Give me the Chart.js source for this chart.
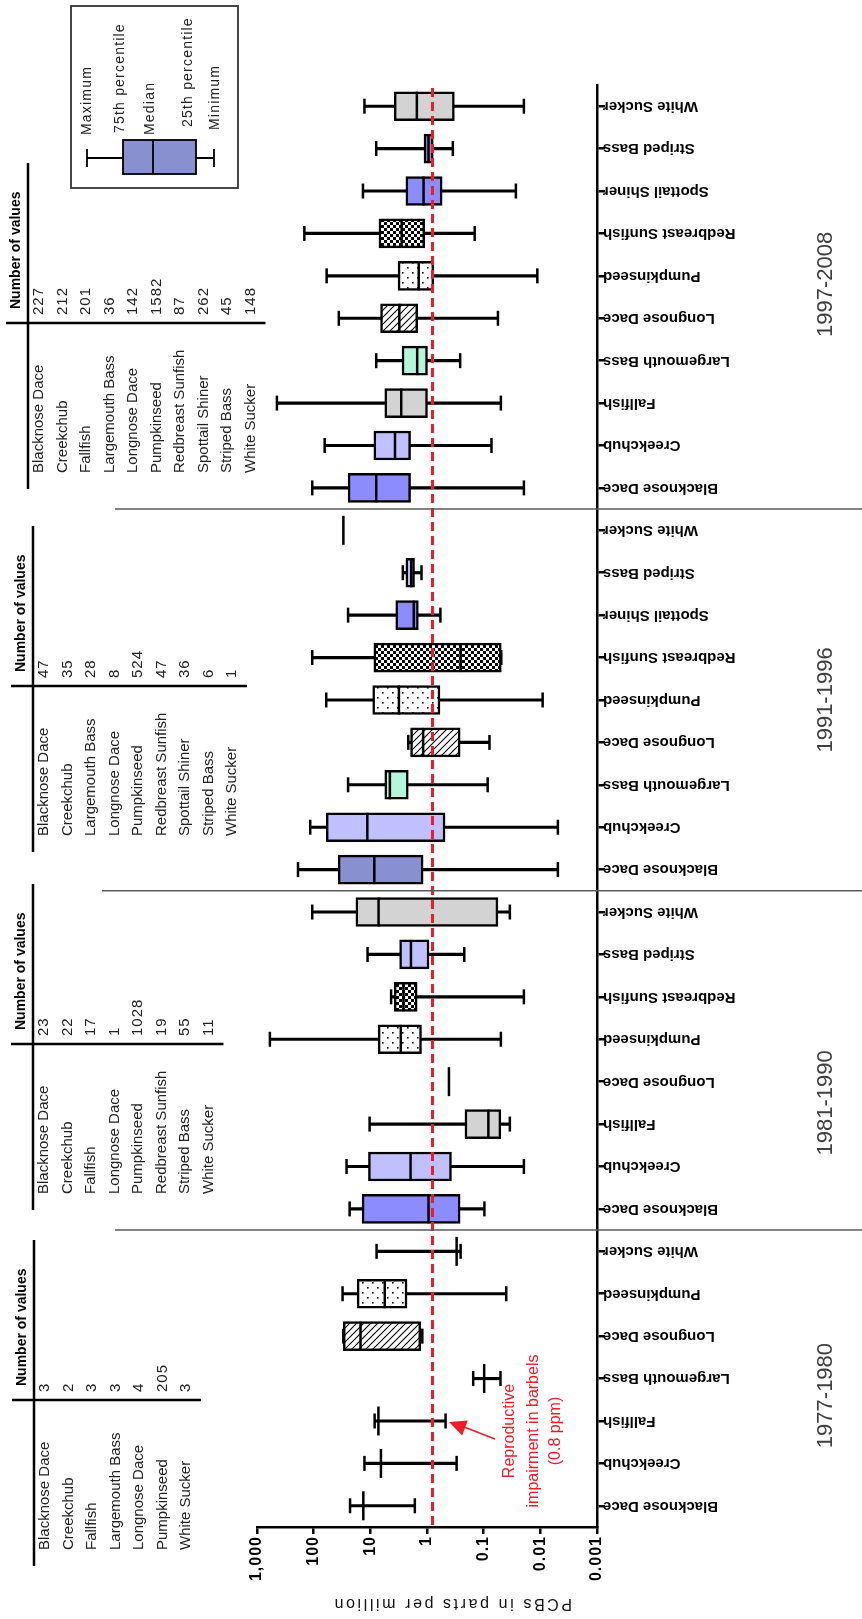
<!DOCTYPE html>
<html>
<head>
<meta charset="utf-8">
<script src="https://cdn.jsdelivr.net/npm/chart.js"></script>
<style>
  html, body { margin: 0; padding: 0; background: #fff; }
  #wrap { width: 862px; height: 1619px; }
</style>
</head>
<body>
<div id="wrap"><canvas id="pcbChart" width="862" height="1619"></canvas></div>
<script>
// ------------------------------------------------------------
// DATA  (bottom of the figure first, i.e. 1977-1980 Blacknose Dace first)
// ------------------------------------------------------------
const periods = ['1977-1980', '1981-1990', '1991-1996', '1997-2008'];

const periodOf = [0, 0, 0, 0, 0, 0, 0,
                  1, 1, 1, 1, 1, 1, 1, 1,
                  2, 2, 2, 2, 2, 2, 2, 2, 2,
                  3, 3, 3, 3, 3, 3, 3, 3, 3, 3];

const species = [
  'Blacknose Dace', 'Creekchub', 'Fallfish', 'Largemouth Bass', 'Longnose Dace', 'Pumpkinseed', 'White Sucker',
  'Blacknose Dace', 'Creekchub', 'Fallfish', 'Longnose Dace', 'Pumpkinseed', 'Redbreast Sunfish', 'Striped Bass', 'White Sucker',
  'Blacknose Dace', 'Creekchub', 'Largemouth Bass', 'Longnose Dace', 'Pumpkinseed', 'Redbreast Sunfish', 'Spottail Shiner', 'Striped Bass', 'White Sucker',
  'Blacknose Dace', 'Creekchub', 'Fallfish', 'Largemouth Bass', 'Longnose Dace', 'Pumpkinseed', 'Redbreast Sunfish', 'Spottail Shiner', 'Striped Bass', 'White Sucker'
];

const minimum = [1.64, 0.30, 0.47, 0.0505, 1.21, 0.040, 0.255,
                 0.097, 0.0195, 0.0345, null, 0.0497, 0.0195, 0.22, 0.0345,
                 0.0049, 0.0049, 0.085, 0.079, 0.0091, 0.0489, 0.58, 1.25, null,
                 0.0195, 0.0728, 0.0497, 0.26, 0.056, 0.0113, 0.144, 0.027, 0.35, 0.0195];

const q1 = [null, null, null, null, 1.29, 2.25, null,
            0.26, 0.37, 0.0497, null, 1.25, 1.49, 0.92, 0.056,
            1.17, 0.48, 2.14, 0.26, 0.59, 0.0489, 1.42, 1.66, null,
            1.95, 1.95, 0.98, 0.98, 1.46, 0.76, 1.10, 0.54, 0.775, 0.329];

const median = [13.3, 6.5, 7.2, 0.098, 14.9, 5.56, 0.30,
                0.94, 1.95, 0.0826, 0.41, 2.9, 2.6, 1.92, 7.16,
                8.5, 11.3, 4.52, 1.17, 3.13, 0.255, 1.71, 1.9, 29.9,
                7.87, 3.67, 2.85, 1.49, 3.08, 1.40, 2.8, 1.15, 0.94, 1.51];

const q3 = [null, null, null, null, 30, 17.1, null,
            14, 10.8, 0.214, null, 7.28, 3.79, 3.04, 18,
            37, 60, 5.56, 1.95, 9.08, 8.67, 3.56, 2.36, null,
            24.7, 8.67, 5.56, 2.76, 6.6, 3.24, 7.05, 2.36, 1.13, 3.79];

const maximum = [22.8, 12.7, 8.4, 0.153, 30, 30.9, 7.76,
                 23.2, 26.3, 10.3, null, 592, 4.3, 11.2, 106,
                 189, 115, 24.7, 2.14, 60, 106, 24.7, 2.67, null,
                 106, 64, 445, 7.87, 36, 59, 146, 13.5, 7.87, 12.7];

// "Number of values" tables, same species order as above
const counts1977 = [3, 2, 3, 3, 4, 205, 3];
const counts1981 = [23, 22, 17, 1, 1028, 19, 55, 11];
const counts1991 = [47, 35, 28, 8, 524, 47, 36, 6, 1];
const counts1997 = [227, 212, 201, 36, 142, 1582, 87, 262, 45, 148];
const countsByPeriod = [counts1977, counts1981, counts1991, counts1997];

const tickValues = [1000, 100, 10, 1, 0.1, 0.01, 0.001];
const tickLabels = ['1,000', '100', '10', '1', '0.1', '0.01', '0.001'];

const thresholdPpm = 0.8;

// ------------------------------------------------------------
// STYLES
// ------------------------------------------------------------
const FONT = '"Liberation Sans", Arial, sans-serif';
const UP = -Math.PI / 2;
const FLIP = Math.PI;

function makePattern(kind) {
  const c = document.createElement('canvas');
  const s = kind === 'check' ? 6 : (kind === 'dots' ? 10 : 7);
  c.width = s; c.height = s;
  const g = c.getContext('2d');
  g.fillStyle = '#fff';
  g.fillRect(0, 0, s, s);
  g.fillStyle = '#000';
  g.strokeStyle = '#000';
  if (kind === 'hatch') {
    g.lineWidth = 1.1;
    g.beginPath();
    g.moveTo(0, s); g.lineTo(s, 0);
    g.moveTo(-2, 2); g.lineTo(2, -2);
    g.moveTo(s - 2, s + 2); g.lineTo(s + 2, s - 2);
    g.stroke();
  } else if (kind === 'dots') {
    g.fillRect(2, 2, 1.6, 1.6);
    g.fillRect(7, 7, 1.6, 1.6);
  } else {
    g.fillRect(0, 0, 3, 3);
    g.fillRect(3, 3, 3, 3);
  }
  return g.createPattern(c, 'repeat');
}

const patterns = { hatch: makePattern('hatch'), dots: makePattern('dots'), check: makePattern('check') };

const speciesFill = {
  'Blacknose Dace': '#8c8cff',
  'Creekchub': '#c0c0ff',
  'Fallfish': '#d3d3d3',
  'Largemouth Bass': '#b4f5dc',
  'Longnose Dace': patterns.hatch,
  'Pumpkinseed': patterns.dots,
  'Redbreast Sunfish': patterns.check,
  'Spottail Shiner': '#8c8cff',
  'Striped Bass': '#c0c0ff',
  'White Sucker': '#d3d3d3'
};

function fillFor(i) {
  if (species[i] === 'Blacknose Dace' && periodOf[i] === 2) return '#8890d0';
  if (species[i] === 'Striped Bass' && periodOf[i] === 3) return '#9090d8';
  return speciesFill[species[i]];
}

// chart order is top to bottom, so reverse everything
const rev = a => a.slice().reverse();
const labels = rev(species);
const cMin = rev(minimum), cQ1 = rev(q1), cMed = rev(median), cQ3 = rev(q3), cMax = rev(maximum);
const cFill = rev(species.map((s, i) => fillFor(i)));
const cPeriod = rev(periodOf);

const whiskerData = cMin.map((m, k) => (m == null || cMax[k] == null) ? null : [m, cMax[k]]);
const boxData = cQ1.map((v, k) => (v == null || cQ3[k] == null) ? null : [v, cQ3[k]]);

// ------------------------------------------------------------
// DRAWING HELPERS
// ------------------------------------------------------------
function txt(ctx, s, x, y, o) {
  ctx.save();
  ctx.translate(x, y);
  ctx.rotate(o.rot || 0);
  ctx.font = o.font;
  ctx.fillStyle = o.color || '#000';
  ctx.textAlign = o.align || 'left';
  ctx.textBaseline = 'middle';
  ctx.letterSpacing = (o.spacing || 0) + 'px';
  ctx.fillText(s, 0, 0);
  ctx.restore();
}

function line(ctx, x0, y0, x1, y1, w, color) {
  ctx.save();
  ctx.beginPath();
  ctx.moveTo(x0, y0);
  ctx.lineTo(x1, y1);
  ctx.lineWidth = w;
  ctx.strokeStyle = color || '#000';
  ctx.stroke();
  ctx.restore();
}

// table positions (rotated tables on the left)
const tableLayout = [
  { p: 3, hY: 323, x0: 28 },
  { p: 2, hY: 686, x0: 33 },
  { p: 1, hY: 1044, x0: 33 },
  { p: 0, hY: 1400, x0: 34 }
];
const periodLabelAt = [30.4, 23.5, 14.0, 4.2]; // chart-order category index of each period label centre
const separatorStart = [115, 102, 115];

const overlay = {
  id: 'overlay',
  afterDatasetsDraw(chart) {
    const ctx = chart.ctx;
    const xs = chart.scales.x, ys = chart.scales.y;
    const area = chart.chartArea;
    const n = labels.length;
    const step = ys.getPixelForValue(1) - ys.getPixelForValue(0);

    // red threshold line
    const rx = xs.getPixelForValue(thresholdPpm);
    ctx.save();
    ctx.setLineDash([9, 5]);
    line(ctx, rx, area.top + 3, rx, area.bottom, 3, '#ee1c25');
    ctx.restore();

    // period separators
    let s = 0;
    for (let k = 0; k < n - 1; k++) {
      if (cPeriod[k] !== cPeriod[k + 1]) {
        const y = (ys.getPixelForValue(k) + ys.getPixelForValue(k + 1)) / 2;
        line(ctx, separatorStart[s++], y, 862, y, 1.5, '#5a5a5a');
      }
    }

    // category labels (upside down)
    labels.forEach((lab, k) => {
      txt(ctx, lab, area.right + 6, ys.getPixelForValue(k),
          { rot: FLIP, align: 'right', font: 'bold 15px ' + FONT, spacing: 0 });
    });

    // value tick labels
    tickValues.forEach((v, k) => {
      txt(ctx, tickLabels[k], xs.getPixelForValue(v), area.bottom + 9,
          { rot: UP, align: 'right', font: 'bold 16px ' + FONT, spacing: 1 });
    });

    // axis title
    txt(ctx, 'PCBs in parts per million', (area.left + area.right) / 2 + 25, area.bottom + 76,
        { rot: FLIP, align: 'center', font: '16px ' + FONT, spacing: 2.6, color: '#111' });

    // period labels
    periods.forEach((p, k) => {
      txt(ctx, p, 826, ys.getPixelForValue(0) + step * periodLabelAt[k],
          { rot: UP, align: 'center', font: '22px ' + FONT, color: '#404040' });
    });

    // tables
    tableLayout.forEach(t => {
      const names = species.filter((sp, i) => periodOf[i] === t.p);
      const counts = countsByPeriod[t.p];
      const rowX = i => t.x0 + 11 + 23.5 * i;
      const lastX = rowX(names.length - 1);
      line(ctx, t.x0, t.hY - 160, t.x0, t.hY + 166, 2.5);
      line(ctx, t.x0 - 22, t.hY, lastX + 15, t.hY, 2.5);
      txt(ctx, 'Number of values', t.x0 - 12, t.hY - 14, { rot: UP, font: 'bold 14px ' + FONT });
      names.forEach((nm, i) => {
        txt(ctx, String(counts[i]), rowX(i), t.hY - 8,
            { rot: UP, font: '15px ' + FONT, spacing: 1, color: '#222' });
        txt(ctx, nm, rowX(i), t.hY + 150, { rot: UP, font: '15px ' + FONT, color: '#222' });
      });
    });

    // legend box
    ctx.save();
    ctx.strokeStyle = '#333';
    ctx.lineWidth = 1.8;
    ctx.strokeRect(71, 6, 167, 182);
    ctx.restore();
    line(ctx, 87, 158, 214, 158, 1.8);
    line(ctx, 87, 149, 87, 167, 1.8);
    line(ctx, 214, 149, 214, 167, 1.8);
    ctx.save();
    ctx.fillStyle = '#8890d0';
    ctx.fillRect(123, 140, 73, 34);
    ctx.strokeStyle = '#000';
    ctx.lineWidth = 1.8;
    ctx.strokeRect(123, 140, 73, 34);
    ctx.restore();
    line(ctx, 153, 140, 153, 174, 1.8);
    [['Maximum', 87, 135], ['75th percentile', 120, 133], ['Median', 150, 135],
     ['25th percentile', 188, 127], ['Minimum', 215, 130]].forEach(l => {
      txt(ctx, l[0], l[1], l[2], { rot: UP, font: '14px ' + FONT, spacing: 1.2, color: '#222' });
    });

    // annotation for the red line
    const red = '#ee1c25';
    [['Reproductive', 510], ['impairment in barbels', 534], ['(0.8 ppm)', 556]].forEach(l => {
      txt(ctx, l[0], l[1], 1431, { rot: UP, align: 'center', font: '16px ' + FONT, color: red });
    });
    const tipX = 449, tipY = 1422, tailX = 495, tailY = 1439;
    line(ctx, tailX, tailY, tipX + 10, tipY + 3, 1.5, red);
    const ang = Math.atan2(tipY - tailY, tipX - tailX);
    ctx.save();
    ctx.fillStyle = red;
    ctx.beginPath();
    ctx.moveTo(tipX, tipY);
    ctx.lineTo(tipX - 17 * Math.cos(ang) + 8 * Math.sin(ang), tipY - 17 * Math.sin(ang) - 8 * Math.cos(ang));
    ctx.lineTo(tipX - 17 * Math.cos(ang) - 8 * Math.sin(ang), tipY - 17 * Math.sin(ang) + 8 * Math.cos(ang));
    ctx.closePath();
    ctx.fill();
    ctx.restore();
  }
};

// vertical tick-shaped marker used for whisker caps and medians
const markerStyle = (radius) => ({
  type: 'line',
  indexAxis: 'y',
  showLine: false,
  pointStyle: 'line',
  pointRotation: 90,
  pointRadius: radius,
  pointBorderWidth: 2.5,
  pointBorderColor: '#000',
  spanGaps: false
});

// ------------------------------------------------------------
// CHART
// ------------------------------------------------------------
new Chart(document.getElementById('pcbChart'), {
  type: 'bar',
  data: {
    labels: labels,
    datasets: [
      {
        label: 'Whiskers',
        indexAxis: 'y',
        data: whiskerData,
        backgroundColor: '#000',
        barThickness: 2.5,
        grouped: false,
        order: 4
      },
      {
        label: 'Box',
        indexAxis: 'y',
        data: boxData,
        backgroundColor: cFill,
        borderColor: '#000',
        borderWidth: 2.5,
        borderSkipped: false,
        barThickness: 29,
        grouped: false,
        order: 3
      },
      Object.assign(markerStyle(7.5), { label: 'Maximum', data: cMax, order: 2 }),
      Object.assign(markerStyle(7.5), { label: 'Minimum', data: cMin, order: 1 }),
      Object.assign(markerStyle(14.5), { label: 'Median', data: cMed, order: 0 })
    ]
  },
  options: {
    indexAxis: 'y',
    responsive: false,
    animation: false,
    devicePixelRatio: 1,
    events: [],
    layout: { padding: { left: 257, top: 85, right: 0, bottom: 0 } },
    plugins: {
      legend: { display: false },
      tooltip: { enabled: false }
    },
    scales: {
      x: {
        type: 'logarithmic',
        position: 'bottom',
        reverse: true,
        min: 0.001,
        max: 1000,
        afterBuildTicks: s => { s.ticks = tickValues.map(v => ({ value: v })); },
        afterFit: s => { s.height = 92; },
        ticks: { display: false },
        grid: { drawOnChartArea: false, drawTicks: true, tickLength: 7, color: '#000', lineWidth: 2.5 },
        border: { display: true, color: '#000', width: 2.5 }
      },
      y: {
        type: 'category',
        position: 'right',
        offset: true,
        afterFit: s => { s.width = 265; },
        ticks: { display: false },
        grid: { drawOnChartArea: false, drawTicks: true, tickLength: 8, color: '#000', lineWidth: 2.5, offset: false },
        border: { display: true, color: '#000', width: 2.5 }
      }
    }
  },
  plugins: [overlay]
});
</script>
</body>
</html>
